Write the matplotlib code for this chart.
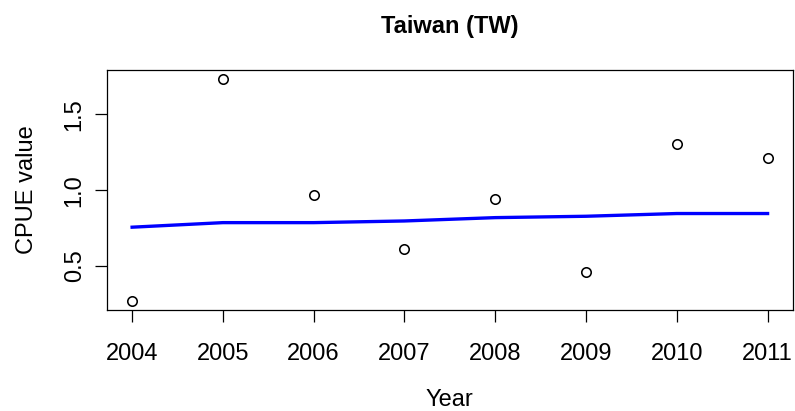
import matplotlib
matplotlib.use("Agg")
import matplotlib.pyplot as plt

years = [2004, 2005, 2006, 2007, 2008, 2009, 2010, 2011]
cpue_obs = [0.269, 1.733, 0.969, 0.612, 0.941, 0.460, 1.306, 1.214]
cpue_fit = [0.756, 0.786, 0.786, 0.797, 0.819, 0.828, 0.846, 0.846]
yticks = [0.5, 1.0, 1.5]

plt.rcParams['font.family'] = ['Liberation Sans', 'DejaVu Sans']

W, H = 795, 411
fig = plt.figure(figsize=(W / 100, H / 100), dpi=100)
L, R, T, B = 106.7, 793.0, 70.0, 310.0
ax = fig.add_axes([L / W, 1 - B / H, (R - L) / W, (B - T) / H])

ax.plot(years, cpue_obs, linestyle='none', marker='o', markersize=6.8,
        markerfacecolor='none', markeredgecolor='black', markeredgewidth=1.15)
ax.plot(years, cpue_fit, color='#0000FF', linewidth=2.4)

lo, hi = min(cpue_obs), max(cpue_obs)
pad = (hi - lo) * 0.04
ax.set_ylim(lo - pad, hi + pad)
xpad = (years[-1] - years[0]) * 0.04
ax.set_xlim(years[0] - xpad, years[-1] + xpad)

fs = 17
ax.set_xticks(years)
ax.set_xticklabels([str(y) for y in years], fontsize=fs)
ax.set_yticks(yticks)
ax.set_yticklabels([f"{v:.1f}" for v in yticks], fontsize=fs, rotation=90, va='center')
ax.tick_params(direction='out', length=8.6, width=0.9)
ax.tick_params(axis='x', pad=15)
ax.tick_params(axis='y', pad=6.5)
for s in ax.spines.values():
    s.set_linewidth(0.9)

cx = (L + R) / 2
cy = (T + B) / 2
fig.text(cx / W, 1 - 405.5 / H, "Year", ha='center', va='baseline', fontsize=fs)
fig.text(33 / W, 1 - cy / H, "CPUE value", ha='center', va='baseline',
         rotation=90, rotation_mode='anchor', fontsize=fs)
fig.text(cx / W, 1 - 32.7 / H, "Taiwan (TW)", ha='center', va='baseline',
         fontsize=fs, fontweight='bold')

fig.savefig("out.png", dpi=100)
